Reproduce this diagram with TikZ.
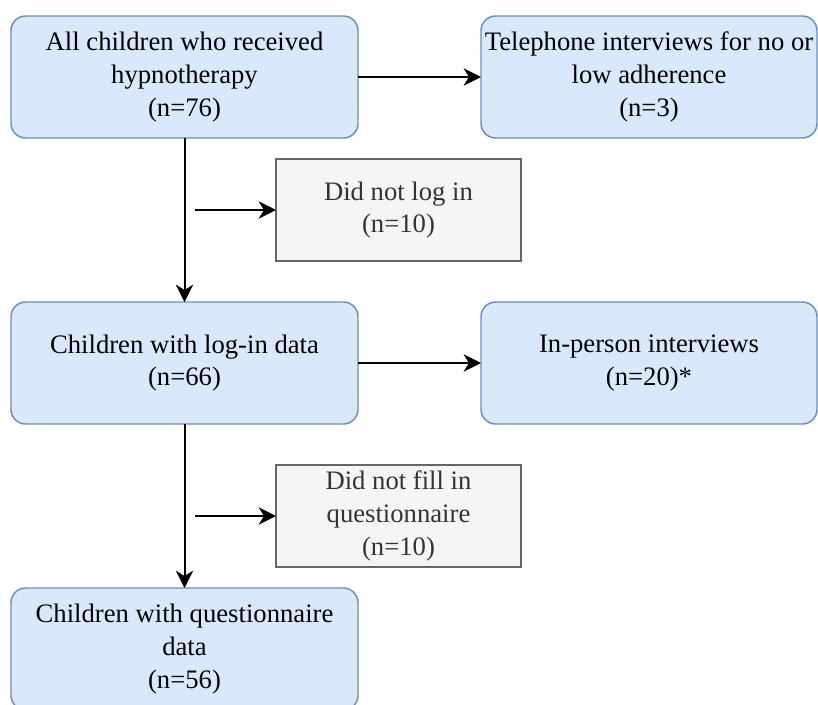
\documentclass[tikz,border=0pt]{standalone}
\usepackage{fontspec}
\setmainfont{Liberation Serif}
\usetikzlibrary{arrows.meta}
\definecolor{bluefill}{HTML}{DAE8FC}
\definecolor{blueline}{HTML}{6C8EBF}
\definecolor{grayfill}{HTML}{F5F5F5}
\definecolor{grayline}{HTML}{666666}
\definecolor{graytext}{HTML}{333333}
\tikzset{
  bluebox/.style={draw=blueline, fill=bluefill, line width=1.1pt, rounded corners=11pt,
    minimum width=260.25pt, minimum height=91.5pt, inner sep=0pt, outer sep=0pt,
    align=center, font=\rmfamily\fontsize{20}{24.5}\selectfont, text=black},
  graybox/.style={draw=grayline, fill=grayfill, line width=1.1pt,
    minimum width=183.75pt, minimum height=76.5pt, inner sep=0pt, outer sep=0pt,
    align=center, font=\rmfamily\fontsize{20}{24.5}\selectfont, text=graytext},
  flow/.style={line width=1.5pt, -{Stealth[length=13pt,width=13pt,inset=4pt]}}
}
\begin{document}
\begin{tikzpicture}[x=0.75pt,y=-0.75pt]
\useasboundingbox (0,0) rectangle (818,704);
\clip (0,0) rectangle (818,704);
\fill[white] (0,0) rectangle (818,704);
\node[bluebox] (all) at (184.5,77) {All children who received\\hypnotherapy\\(n=76)};
\node[bluebox, minimum width=252pt] (tel) at (649,77) {Telephone interviews for no or\\low adherence\\(n=3)};
\node[graybox] (nolog) at (398.5,210) {Did not log in\\(n=10)};
\node[bluebox] (login) at (184.5,363) {Children with log-in data\\(n=66)};
\node[bluebox, minimum width=252pt] (inp) at (649,363) {In-person interviews\\(n=20)*};
\node[graybox] (nofill) at (398.5,516) {Did not fill in\\questionnaire\\(n=10)};
\node[bluebox] (quest) at (184.5,649) {Children with questionnaire\\data\\(n=56)};
\coordinate (s1) at (195,210);
\coordinate (s2) at (195,516);
\draw[flow] (all.south) -- (login.north);
\draw[flow] (s1) -- (nolog.west);
\draw[flow] (all.east) -- (tel.west);
\draw[flow] (login.east) -- (inp.west);
\draw[flow] (login.south) -- (quest.north);
\draw[flow] (s2) -- (nofill.west);
\end{tikzpicture}
\end{document}
